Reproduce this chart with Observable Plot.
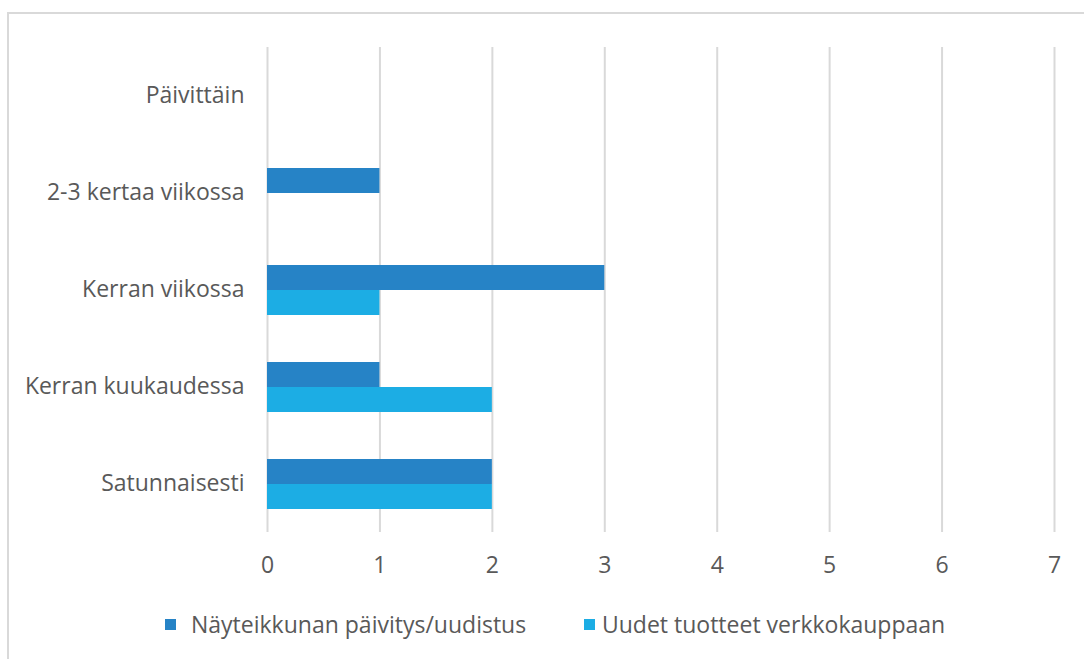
<!DOCTYPE html>
<html>
<head>
<meta charset="utf-8">
<script src="https://cdn.jsdelivr.net/npm/d3@7"></script>
<script src="https://cdn.jsdelivr.net/npm/@observablehq/plot@0.6"></script>
<style>
  body { margin: 0; background: #fff; }
  #wrap { position: relative; width: 1084px; height: 659px; overflow: hidden; font-family: "Open Sans", sans-serif; }
  #frame { position: absolute; left: 7px; top: 12px; width: 1100px; height: 700px; border: 2px solid #d9d9d9; box-sizing: border-box; }
  #chart { position: absolute; left: 0; top: 0; }
  #legend { position: absolute; top: 609px; left: 0; width: 1084px; height: 30px; color: #595959; font-size: 23px; }
  .item { position: absolute; top: 0; display: flex; align-items: center; height: 30px; white-space: nowrap; }
  .sw { width: 11px; height: 11px; }
</style>
</head>
<body>
<div id="wrap">
  <div id="frame"></div>
  <div id="chart"></div>
  <div id="legend"></div>
</div>
<script>
const categories = ["Päivittäin", "2-3 kertaa viikossa", "Kerran viikossa", "Kerran kuukaudessa", "Satunnaisesti"];
const seriesNames = ["Näyteikkunan päivitys/uudistus", "Uudet tuotteet verkkokauppaan"];
const seriesColors = ["#2683C6", "#1CADE4"];
const nayteikkuna = [0, 1, 3, 1, 2];
const uudetTuotteet = [0, 0, 1, 2, 2];
const xTicks = [0, 1, 2, 3, 4, 5, 6, 7];

const rows = [];
categories.forEach((c, i) => {
  rows.push({category: c, series: seriesNames[0], value: nayteikkuna[i]});
  rows.push({category: c, series: seriesNames[1], value: uudetTuotteet[i]});
});

const plot = Plot.plot({
  width: 1084,
  height: 590,
  marginLeft: 267,
  marginRight: 30,
  marginTop: 45,
  marginBottom: 57,
  style: { fontFamily: "'Open Sans', sans-serif", fontSize: "23px", color: "#595959", background: "transparent" },
  x: { domain: [0, 7], label: null },
  fy: { domain: categories, padding: 0, label: null },
  y: { domain: seriesNames, axis: null, paddingInner: 0, paddingOuter: 0.935 },
  color: { domain: seriesNames, range: seriesColors },
  marks: [
    Plot.gridX(xTicks, { stroke: "#d9d9d9", strokeWidth: 2, strokeOpacity: 1 }),
    Plot.barX(rows, { fy: "category", y: "series", x: "value", fill: "series" }),
    Plot.axisX(xTicks, { tickSize: 0, tickPadding: 24, fontSize: 23, fill: "#595959", label: null }),
    Plot.axisFy({ anchor: "left", tickSize: 0, tickPadding: 23, fontSize: 23, fill: "#595959", label: null })
  ]
});
document.getElementById("chart").appendChild(plot);

const legend = document.getElementById("legend");
const lefts = [165, 584];
const gaps = [15, 7];
seriesNames.forEach((s, i) => {
  const it = document.createElement("div");
  it.className = "item";
  it.style.left = lefts[i] + "px";
  const sw = document.createElement("div");
  sw.className = "sw";
  sw.style.background = seriesColors[i];
  sw.style.marginRight = gaps[i] + "px";
  it.appendChild(sw);
  const t = document.createElement("span");
  t.textContent = s;
  it.appendChild(t);
  legend.appendChild(it);
});
</script>
</body>
</html>
